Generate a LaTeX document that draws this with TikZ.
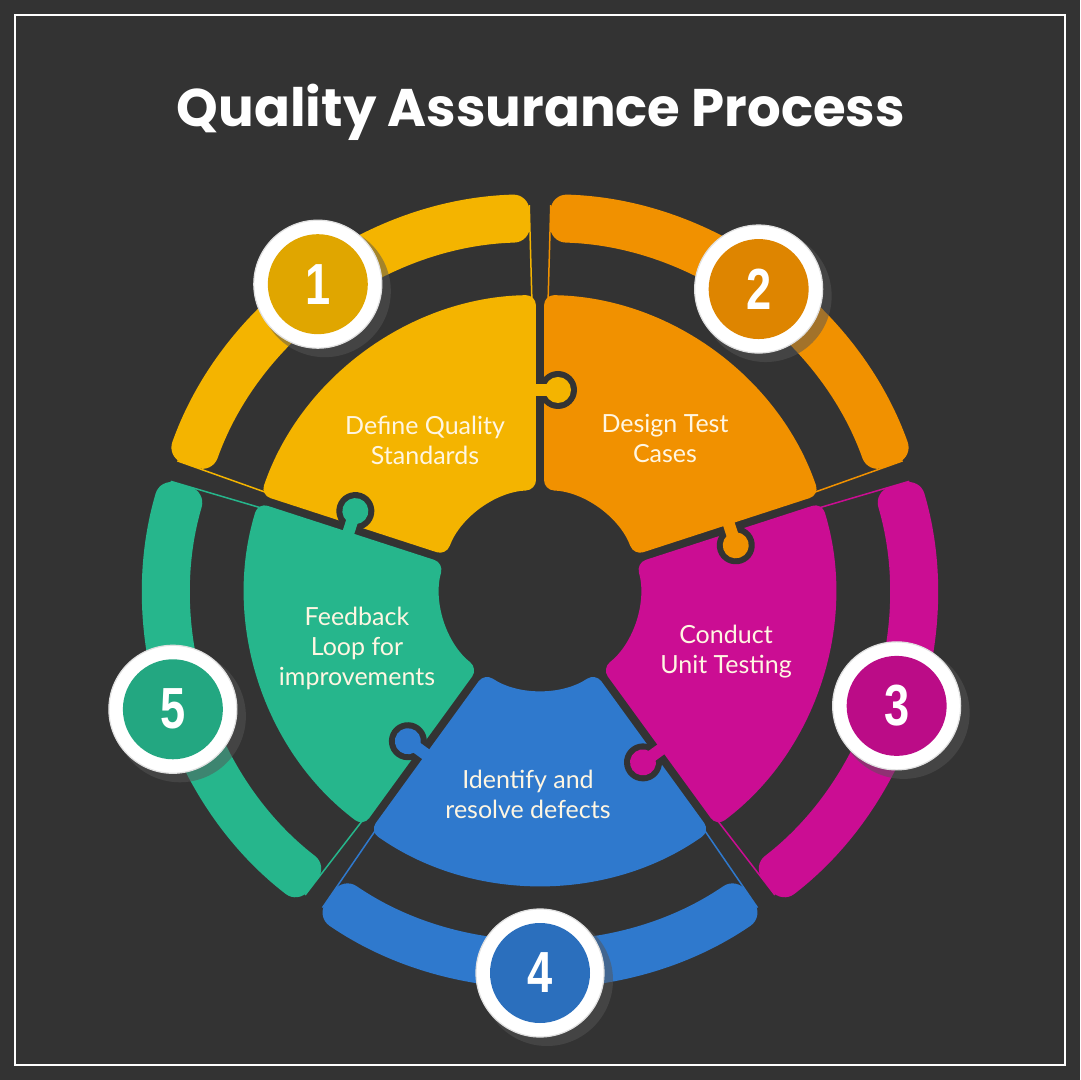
\documentclass[tikz,border=0pt]{standalone}
\usepackage{fontspec}
\usepackage{graphicx}
\setmainfont{Lato}
\newfontfamily\titlefont{Poppins}
\newfontfamily\digitfont{Liberation Sans}
\definecolor{bgcol}{HTML}{333333}
\definecolor{txtcol}{HTML}{FFF6E2}
\definecolor{qyellow}{HTML}{F4B400}
\definecolor{qorange}{HTML}{F19100}
\definecolor{qmagenta}{HTML}{CB0D93}
\definecolor{qblue}{HTML}{2F79CD}
\definecolor{qgreen}{HTML}{26B68C}
\definecolor{shadecol}{HTML}{555555}

\begin{document}
\begin{tikzpicture}[x=0.5pt,y=0.5pt,
  piece/.style={rounded corners=5pt},
  band/.style={rounded corners=8pt},
  link/.style={line width=0.75pt},
  piecetext/.style={text=txtcol,align=center,font=\fontsize{12.5}{15}\selectfont},
  ring/.style={circle,fill=white,draw=black!12,line width=0.6pt,minimum size=64pt,inner sep=0pt},
  disc/.style={circle,minimum size=50pt,inner sep=0pt},
  digit/.style={text=white,inner sep=0pt,font=\digitfont\bfseries\fontsize{29}{29}\selectfont}]
 \useasboundingbox (-540,-490) rectangle (540,590);
 \fill[bgcol] (-540,-490) rectangle (540,590);
 \draw[white,line width=1.2pt] (-525,-475) rectangle (525,575);
 \node[text=white] (title) at (1,478) {\resizebox{364pt}{!}{\titlefont\bfseries Quality Assurance Process}};

 \draw[link,qyellow] (91.6:292)--(91.6:385);
 \draw[link,qyellow] (160.4:292)--(160.4:385);
 \fill[band,qyellow] (91.6:396) arc[start angle=91.6,end angle=160.4,radius=396] -- (160.4:348) arc[start angle=160.4,end angle=91.6,radius=348] -- cycle;
 \fill[piece,qyellow] (90.8:295) arc[start angle=90.8,end angle=161.2,radius=295] -- (159.7:100) arc[start angle=159.7,end angle=92.3,radius=100] -- cycle;

 \draw[link,qorange] (19.6:292)--(19.6:385);
 \draw[link,qorange] (88.4:292)--(88.4:385);
 \fill[band,qorange] (19.6:396) arc[start angle=19.6,end angle=88.4,radius=396] -- (88.4:348) arc[start angle=88.4,end angle=19.6,radius=348] -- cycle;
 \fill[piece,qorange] (18.8:295) arc[start angle=18.8,end angle=89.2,radius=295] -- (87.7:100) arc[start angle=87.7,end angle=20.3,radius=100] -- cycle;

 \draw[link,qmagenta] (-52.4:292)--(-52.4:385);
 \draw[link,qmagenta] (16.4:292)--(16.4:385);
 \fill[band,qmagenta] (-52.4:396) arc[start angle=-52.4,end angle=16.4,radius=396] -- (16.4:348) arc[start angle=16.4,end angle=-52.4,radius=348] -- cycle;
 \fill[piece,qmagenta] (-53.2:295) arc[start angle=-53.2,end angle=17.2,radius=295] -- (15.7:100) arc[start angle=15.7,end angle=-51.7,radius=100] -- cycle;

 \draw[link,qblue] (-124.4:292)--(-124.4:385);
 \draw[link,qblue] (-55.6:292)--(-55.6:385);
 \fill[band,qblue] (-124.4:396) arc[start angle=-124.4,end angle=-55.6,radius=396] -- (-55.6:348) arc[start angle=-55.6,end angle=-124.4,radius=348] -- cycle;
 \fill[piece,qblue] (-125.2:295) arc[start angle=-125.2,end angle=-54.8,radius=295] -- (-56.3:100) arc[start angle=-56.3,end angle=-123.7,radius=100] -- cycle;

 \draw[link,qgreen] (163.6:292)--(163.6:385);
 \draw[link,qgreen] (232.4:292)--(232.4:385);
 \fill[band,qgreen] (163.6:396) arc[start angle=163.6,end angle=232.4,radius=396] -- (232.4:348) arc[start angle=232.4,end angle=163.6,radius=348] -- cycle;
 \fill[piece,qgreen] (162.8:295) arc[start angle=162.8,end angle=233.2,radius=295] -- (231.7:100) arc[start angle=231.7,end angle=164.3,radius=100] -- cycle;

 \begin{scope}[rotate=90]
  \fill[bgcol] (200,-18) circle[radius=19];
  \fill[bgcol] (190,0) rectangle (210,-18);
  \fill[qyellow] (200,-18) circle[radius=13];
  \fill[qyellow] (194,6) rectangle (206,-14);
 \end{scope}
 \begin{scope}[rotate=18]
  \fill[bgcol] (200,-18) circle[radius=19];
  \fill[bgcol] (190,0) rectangle (210,-18);
  \fill[qorange] (200,-18) circle[radius=13];
  \fill[qorange] (194,6) rectangle (206,-14);
 \end{scope}
 \begin{scope}[rotate=-54]
  \fill[bgcol] (200,-18) circle[radius=19];
  \fill[bgcol] (190,0) rectangle (210,-18);
  \fill[qmagenta] (200,-18) circle[radius=13];
  \fill[qmagenta] (194,6) rectangle (206,-14);
 \end{scope}
 \begin{scope}[rotate=-126]
  \fill[bgcol] (200,-18) circle[radius=19];
  \fill[bgcol] (190,0) rectangle (210,-18);
  \fill[qblue] (200,-18) circle[radius=13];
  \fill[qblue] (194,6) rectangle (206,-14);
 \end{scope}
 \begin{scope}[rotate=162]
  \fill[bgcol] (200,-18) circle[radius=19];
  \fill[bgcol] (190,0) rectangle (210,-18);
  \fill[qgreen] (200,-18) circle[radius=13];
  \fill[qgreen] (194,6) rectangle (206,-14);
 \end{scope}

 \node[piecetext] (t1) at (-115,150) {Define Quality\\Standards};
 \node[piecetext] (t2) at (125,152) {Design Test\\Cases};
 \node[piecetext] (t3) at (186,-62) {Conduct\\Unit Testing};
 \node[piecetext] (t4) at (-12,-204) {Identify and\\resolve defects};
 \node[piecetext] (t5) at (-183,-58) {Feedback\\Loop for\\improvements};

 \fill[shadecol,opacity=0.5] ([shift={(7,-7)}]126:378) circle[radius=66];
 \node[ring] (n1) at (126:378) {};
 \node[disc,fill=qyellow!92!black] (d1) at (n1) {};
 \node[digit] (k1) at (n1) {\scalebox{0.78}[1]{1}};

 \fill[shadecol,opacity=0.5] ([shift={(7,-7)}]54:372) circle[radius=66];
 \node[ring] (n2) at (54:372) {};
 \node[disc,fill=qorange!92!black] (d2) at (n2) {};
 \node[digit] (k2) at (n2) {\scalebox{0.78}[1]{2}};

 \fill[shadecol,opacity=0.5] ([shift={(7,-7)}]-18:375) circle[radius=66];
 \node[ring] (n3) at (-18:375) {};
 \node[disc,fill=qmagenta!92!black] (d3) at (n3) {};
 \node[digit] (k3) at (n3) {\scalebox{0.78}[1]{3}};

 \fill[shadecol,opacity=0.5] ([shift={(7,-7)}]-90:383) circle[radius=66];
 \node[ring] (n4) at (-90:383) {};
 \node[disc,fill=qblue!92!black] (d4) at (n4) {};
 \node[digit] (k4) at (n4) {\scalebox{0.78}[1]{4}};

 \fill[shadecol,opacity=0.5] ([shift={(7,-7)}]198:386) circle[radius=66];
 \node[ring] (n5) at (198:386) {};
 \node[disc,fill=qgreen!92!black] (d5) at (n5) {};
 \node[digit] (k5) at (n5) {\scalebox{0.78}[1]{5}};
\end{tikzpicture}
\end{document}
